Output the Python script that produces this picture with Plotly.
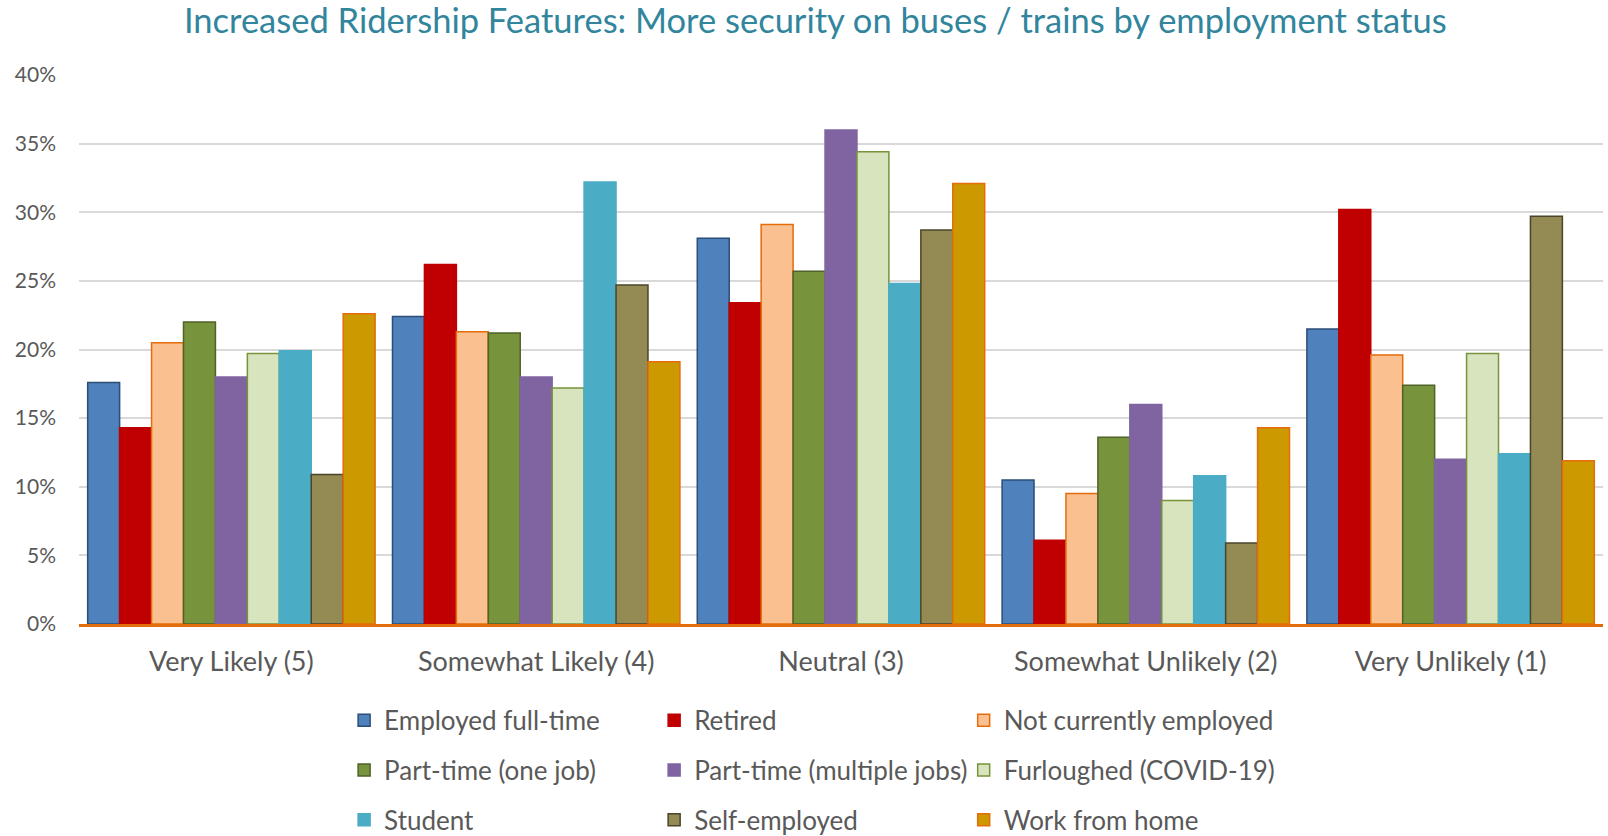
import plotly.graph_objects as go

categories = ["Very Likely (5)", "Somewhat Likely (4)", "Neutral (3)",
              "Somewhat Unlikely (2)", "Very Unlikely (1)"]

series_names = ["Employed full-time", "Retired", "Not currently employed",
                "Part-time (one job)", "Part-time (multiple jobs)", "Furloughed (COVID-19)",
                "Student", "Self-employed", "Work from home"]

employed_full_time = [0.176, 0.224, 0.281, 0.105, 0.215]
retired = [0.143, 0.262, 0.234, 0.061, 0.302]
not_currently_employed = [0.205, 0.213, 0.291, 0.095, 0.196]
part_time_one = [0.220, 0.212, 0.257, 0.136, 0.174]
part_time_multiple = [0.180, 0.180, 0.360, 0.160, 0.120]
furloughed = [0.197, 0.172, 0.344, 0.090, 0.197]
student = [0.199, 0.322, 0.248, 0.108, 0.124]
self_employed = [0.109, 0.247, 0.287, 0.059, 0.297]
work_from_home = [0.226, 0.191, 0.321, 0.143, 0.119]

values = [employed_full_time, retired, not_currently_employed, part_time_one,
          part_time_multiple, furloughed, student, self_employed, work_from_home]

fills = ["#4F81BD", "#C00000", "#FAC090", "#77933C", "#8064A2",
         "#D7E4BD", "#4BACC6", "#948A54", "#CC9900"]
borders = ["#2C4D75", "#C00000", "#E46C0A", "#4F6228", "#8064A2",
           "#77933C", "#4BACC6", "#4A452A", "#E46C0A"]
legend_ids = ["legend", "legend2", "legend3"] * 3

FONT = "Lato"

fig = go.Figure()
for i, name in enumerate(series_names):
    fig.add_trace(go.Bar(
        x=categories, y=values[i], name=name,
        marker=dict(color=fills[i], line=dict(color=borders[i], width=1.5)),
        legend=legend_ids[i], legendgroup=name,
    ))

legend_common = dict(orientation="v", xref="container", yref="container",
                     xanchor="left", yanchor="top", tracegroupgap=13,
                     font=dict(family=FONT, size=26, color="#595959"),
                     bgcolor="rgba(0,0,0,0)")
legend_x = [0.2140, 0.4068, 0.5993]
legend_y = 0.1665

fig.update_layout(
    width=1608, height=836,
    paper_bgcolor="white", plot_bgcolor="white",
    margin=dict(l=79, r=5, t=75, b=212, autoexpand=False),
    barmode="group", bargap=0.057, bargroupgap=0,
    title=dict(text="Increased Ridership Features: More security on buses / trains by employment status",
               x=0.507, xref="container", xanchor="center",
               y=1 - 21 / 836, yref="container", yanchor="middle",
               font=dict(family=FONT, size=34.5, color="#31859C")),
    font=dict(family=FONT, color="#595959"),
    legend=dict(x=legend_x[0], y=legend_y, **legend_common),
    legend2=dict(x=legend_x[1], y=legend_y, **legend_common),
    legend3=dict(x=legend_x[2], y=legend_y, **legend_common),
    xaxis=dict(showline=True, linecolor="#E46C0A", linewidth=2.5,
               showgrid=False, ticks="", ticklabelstandoff=12, tickangle=0,
               automargin=False,
               tickfont=dict(family=FONT, size=27, color="#595959")),
    yaxis=dict(range=[0, 0.40], dtick=0.05, tickformat=".0%",
               showgrid=True, gridcolor="#D9D9D9", gridwidth=1.5,
               zeroline=False, showline=False, ticks="", ticklabelstandoff=22,
               automargin=False,
               tickfont=dict(family=FONT, size=21, color="#595959")),
)

fig.write_html("out.html", config={"displayModeBar": False},
               post_script="document.body.style.margin='0';document.body.style.overflow='hidden';")
